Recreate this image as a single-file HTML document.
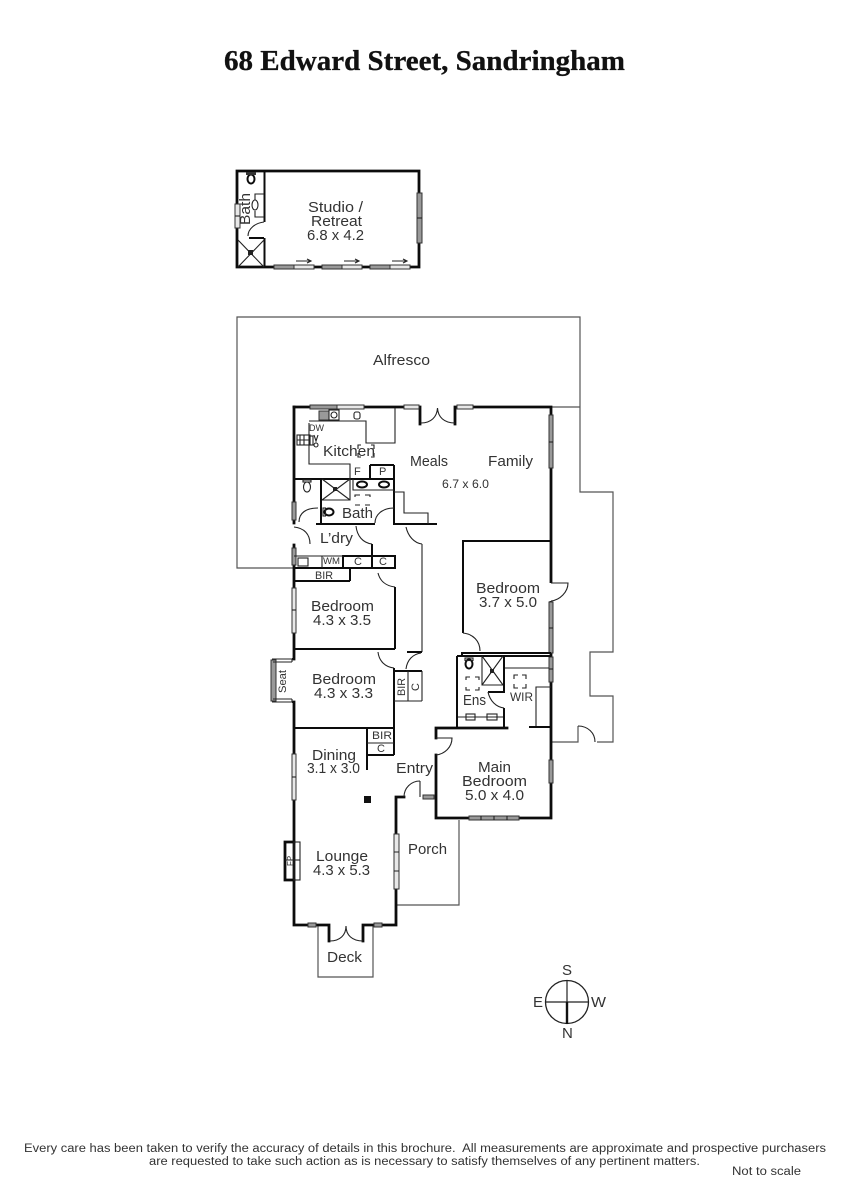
<!DOCTYPE html>
<html><head><meta charset="utf-8"><title>68 Edward Street, Sandringham</title>
<style>
html,body{margin:0;padding:0;background:#fff}
svg{display:block}
text{font-family:"Liberation Sans",sans-serif;fill:#333;font-size:15px}
.w{fill:none;stroke:#0c0c0c;stroke-width:2.8;stroke-linecap:square;stroke-linejoin:miter}
.m{fill:none;stroke:#0c0c0c;stroke-width:2}
.t{fill:none;stroke:#222;stroke-width:1.1}
.o{fill:none;stroke:#555;stroke-width:1.2}
.win{fill:#e8e8e8;stroke:#333;stroke-width:1}
.wd{fill:#999;stroke:#333;stroke-width:1}
.s{font-size:11px}
.xs{font-size:9.5px}
</style></head><body>
<svg width="848" height="1200" viewBox="0 0 848 1200" xmlns="http://www.w3.org/2000/svg">
<rect width="848" height="1200" fill="#fff"/>
<text x="224" y="70" textLength="401" lengthAdjust="spacingAndGlyphs" style="font-family:'Liberation Serif',serif;font-weight:bold;font-size:29px;fill:#111;stroke:#111;stroke-width:.3">68 Edward Street, Sandringham</text>

<!-- STUDIO -->
<path class="w" d="M237 171H419V267H237Z"/>
<path class="m" d="M264.500 171V222M264.500 238V267M249 238H264"/>
<path class="t" d="M264 194H255V200M255 211V217H264M238 240L264 267M264 240L238 267"/>
<ellipse cx="255" cy="205" rx="3" ry="5" class="t" fill="#fff"/>
<path class="t" d="M248 236C248 229 255 223 264 222"/>
<ellipse cx="251" cy="179" rx="3.500" ry="4.500" class="m"/>
<rect x="246" y="172" width="10" height="3" fill="#333"/>
<rect x="248" y="250" width="5" height="5" fill="#222"/>
<rect x="235" y="204" width="5" height="24" class="win"/><path class="t" d="M235 216H240"/>
<rect x="417" y="193" width="5" height="50" class="wd"/><path class="t" d="M417 218H422"/>
<rect x="274" y="265" width="20" height="4" class="wd"/><rect x="294" y="265" width="20" height="4" class="win"/>
<rect x="322" y="265" width="20" height="4" class="wd"/><rect x="342" y="265" width="20" height="4" class="win"/>
<rect x="370" y="265" width="20" height="4" class="wd"/><rect x="390" y="265" width="20" height="4" class="win"/>
<path class="t" d="M296 261H310M307 259L311 261L307 263M344 261H358M355 259L359 261L355 263M392 261H406M403 259L407 261L403 263"/>
<text x="308" y="212" textLength="55" lengthAdjust="spacingAndGlyphs">Studio /</text>
<text x="311" y="226" textLength="51" lengthAdjust="spacingAndGlyphs">Retreat</text>
<text x="307" y="240" textLength="57" lengthAdjust="spacingAndGlyphs">6.8 x 4.2</text>
<text transform="translate(250,225) rotate(-90)" textLength="32" lengthAdjust="spacingAndGlyphs">Bath</text>

<!-- OUTDOOR THIN LINES -->
<path class="o" d="M294 568H237V317H580V492H613V652H590V696H613V742H597M551 407H580M551 742H578V726"/>
<path class="t" d="M578 726C588 726 595 733 595 742"/>
<path class="o" d="M397 905H459V820"/>
<path class="o" d="M318 925V977H373V925"/>

<!-- MAIN OUTER WALLS -->
<path class="w" d="M294 407H420V424M455 424V407H551V818H436V755M436 738V728H507"/>
<path class="w" d="M294 407V523M294 545V659M294 702V925H329V941M363 941V925H396V797H404"/>
<path class="t" d="M421 423C431 423 437 417 437.500 408C438 417 444 423 455 423"/>
<path class="t" d="M330 941C340 941 346 935 346 926C346 935 352 941 363 941"/>
<!-- top windows -->
<rect x="310" y="405" width="27" height="4" class="wd"/><rect x="337" y="405" width="27" height="4" class="win"/>
<rect x="404" y="405" width="15" height="4" class="win"/><rect x="457" y="405" width="16" height="4" class="win"/>
<!-- right windows -->
<rect x="549" y="415" width="4" height="53" class="wd"/><path class="t" d="M549 442H553"/>
<rect x="549" y="583" width="5" height="18" fill="#fff"/>
<path class="t" d="M551 583H568C568 592 560 600 551 601"/>
<rect x="549" y="602" width="4" height="51" class="wd"/><path class="t" d="M549 628H553"/>
<rect x="549" y="657" width="4" height="25" class="wd"/><path class="t" d="M549 669H553"/>
<rect x="549" y="760" width="4" height="23" class="wd"/>
<rect x="469" y="816" width="50" height="4" class="wd"/><path class="t" d="M481 816V820M494 816V820M507 816V820"/>
<!-- left windows -->
<rect x="292" y="502" width="4" height="18" class="wd"/>
<rect x="292" y="548" width="4" height="17" class="wd"/>
<rect x="292" y="588" width="4" height="45" class="win"/><path class="t" d="M292 610H296"/>
<rect x="292" y="754" width="4" height="46" class="win"/><path class="t" d="M292 777H296"/>
<rect x="394" y="834" width="5" height="55" class="win"/><path class="t" d="M394 852H399M394 871H399"/>
<rect x="308" y="923" width="8" height="4" class="wd"/><rect x="374" y="923" width="8" height="4" class="wd"/>
<!-- FP -->
<path class="w" d="M294 842H285V880H294"/>
<rect x="294" y="842" width="6" height="38" class="t"/>
<path class="t" d="M285 860H300"/>
<text class="xs" transform="translate(293,866) rotate(-90)" style="font-size:8px">FP</text>
<!-- Bay seat -->
<path class="m" d="M292 659H294M292 702H294"/>
<rect x="271" y="660" width="5" height="41" class="wd"/>
<path class="t" d="M272 659H292V662M273 662H292M272 702H292V699M273 699H292"/>
<text class="s" transform="translate(286,693) rotate(-90)" textLength="23" lengthAdjust="spacingAndGlyphs">Seat</text>

<!-- Rear wet zone walls -->
<path class="m" d="M294 479H394M321 479V524M316 524H375M393 524H437M394 465V524M370 465H394M370 465V479"/>
<path class="t" d="M309 423V464H350V479M309 421H366V443H395V408"/>
<path class="t" d="M394 492H404V513H428V524"/>
<path class="t" d="M322 500H350V479M322 479L350 500M350 479L322 500M353 479V490H394"/>
<rect x="333" y="487" width="4" height="4" fill="#222"/>
<ellipse cx="362" cy="484.500" rx="5" ry="3" class="m"/><ellipse cx="384" cy="484.500" rx="5" ry="3" class="m"/>
<path class="t" d="M355 497V495H360M365 495H370V497M355 505H360M365 505H370"/>
<ellipse cx="307" cy="487" rx="3.500" ry="5" class="t" stroke-width="1.500"/>
<rect x="303" y="480" width="8" height="2" class="t"/>
<ellipse cx="329" cy="512" rx="4.500" ry="3.500" class="m"/><rect x="323" y="508" width="2.500" height="8" class="t"/>
<path class="t" d="M299 522C299 513 306 508 318 508M375 523C375 515 382 508 394 508"/>
<path class="t" d="M294 527C304 528 310 534 310 544"/>
<path class="t" d="M356 526C357 536 363 543 372 544"/>
<path class="t" d="M406 527C408 536 414 543 422 544M422 544V652"/>
<!-- sink, stove -->
<rect x="319" y="411" width="10" height="9" class="wd"/>
<rect x="329" y="410" width="10" height="10" class="t"/><circle cx="334" cy="415" r="3" class="t"/>
<rect x="354" y="412" width="6" height="7" rx="2" class="t"/>
<rect x="297" y="435" width="13" height="10" class="t"/><path class="t" d="M300 435V445M304 435V445M297 440H310"/>
<rect x="310" y="436" width="3" height="9" class="t"/>
<circle cx="316" cy="445" r="2" class="t"/><path class="t" d="M314 435L316 441L318 435"/>
<text class="xs" x="309" y="431" textLength="15" lengthAdjust="spacingAndGlyphs">DW</text>
<path class="t" d="M361 445H358V449M371 445H374V449M358 453V457H361M374 453V457H371"/>
<text x="323" y="456" textLength="52" lengthAdjust="spacingAndGlyphs">Kitchen</text>
<text class="s" x="354" y="475">F</text><text class="s" x="379" y="475">P</text>
<text x="342" y="518" textLength="31" lengthAdjust="spacingAndGlyphs">Bath</text>
<text x="320" y="543" textLength="33" lengthAdjust="spacingAndGlyphs">L’dry</text>

<!-- Laundry cupboards -->
<path class="m" d="M294 568H395V556H343V568M372 544V568M350 568V581"/>
<path class="t" d="M294 556H343M322 556V568"/>
<path class="m" d="M294 581H350"/>
<rect x="298" y="558" width="10" height="8" class="t"/>
<text x="323" y="564" textLength="17" lengthAdjust="spacingAndGlyphs" class="xs">WM</text>
<text x="354" y="565" class="s">C</text><text x="379" y="565" class="s">C</text>
<text x="315" y="579" class="s" textLength="18" lengthAdjust="spacingAndGlyphs">BIR</text>
<path class="t" d="M378 573C380 581 386 586 395 587"/>
<path class="m" d="M395 587V649M294 649H395"/>

<!-- Bedroom 4.3x3.3 -->
<path class="t" d="M378 652C379 661 385 667 394 668"/>
<path class="m" d="M394 668V755M394 671H422M294 728H394M367 728V770M367 755H394"/>
<path class="t" d="M367 743H394M408 671V701M422 671V701M394 701H422M406 669C407 660 413 654 421 653"/>
<path class="m" d="M407 652H422"/>
<text class="s" transform="translate(405,696) rotate(-90)" textLength="18" lengthAdjust="spacingAndGlyphs">BIR</text>
<text class="s" transform="translate(419,691) rotate(-90)">C</text>
<text class="s" x="372" y="739" textLength="20" lengthAdjust="spacingAndGlyphs">BIR</text>
<text class="s" x="377" y="752">C</text>

<!-- Column -->
<rect x="364" y="796" width="7" height="7" fill="#111"/>

<!-- Entry -->
<path class="t" d="M404 797C404 788 411 781 420 781"/>
<path class="t" d="M420 781V797" stroke-width="1.500"/>
<rect x="423" y="795" width="11" height="4" class="wd"/>
<path class="t" d="M436 738H452C452 747 445 754 436 755"/>

<!-- Bedroom 3.7x5 -->
<path class="m" d="M551 541H463V633" stroke-width="2.400"/>
<path class="t" d="M463 633C473 634 480 641 480 651"/>
<path class="m" d="M463 653H551"/>
<path class="m" d="M457 656H551M457 656V727M462 652V656"/>
<!-- Ensuite -->
<path class="t" d="M482 656V685H503M482 656L503 685M503 656L482 685"/>
<rect x="490" y="669" width="4" height="4" fill="#222"/>
<path class="m" d="M504 656V692H488"/>
<path class="t" d="M488 692C490 701 496 707 504 708"/>
<path class="m" d="M504 708V727"/>
<ellipse cx="469" cy="664" rx="3.500" ry="4.500" class="m"/><rect x="465" y="658" width="8" height="2.500" class="t"/>
<path class="t" d="M466 680V677H470M475 677H479V680M466 687V690H470M475 690H479V687"/>
<path class="t" d="M458 717H503"/>
<rect x="466" y="714" width="9" height="6" class="t" fill="#fff"/><rect x="487" y="714" width="10" height="6" class="t" fill="#fff"/>
<text x="463" y="705" textLength="23" lengthAdjust="spacingAndGlyphs">Ens</text>
<!-- WIR -->
<path class="t" d="M505 668H549M536 727V687H551"/>
<path class="m" d="M529 727H551"/>
<path class="t" d="M514 679V675H518M522 675H526V679M514 684V688H518M522 688H526V684"/>
<text x="510" y="701" textLength="23" lengthAdjust="spacingAndGlyphs" style="font-size:12px">WIR</text>

<!-- Labels -->
<text x="373" y="365" textLength="57" lengthAdjust="spacingAndGlyphs">Alfresco</text>
<text x="410" y="466" textLength="38" lengthAdjust="spacingAndGlyphs">Meals</text>
<text x="488" y="466" textLength="45" lengthAdjust="spacingAndGlyphs">Family</text>
<text x="442" y="488" textLength="47" lengthAdjust="spacingAndGlyphs" style="font-size:12px">6.7 x 6.0</text>
<text x="476" y="593" textLength="64" lengthAdjust="spacingAndGlyphs">Bedroom</text>
<text x="479" y="607" textLength="58" lengthAdjust="spacingAndGlyphs">3.7 x 5.0</text>
<text x="311" y="611" textLength="63" lengthAdjust="spacingAndGlyphs">Bedroom</text>
<text x="313" y="625" textLength="58" lengthAdjust="spacingAndGlyphs">4.3 x 3.5</text>
<text x="312" y="684" textLength="64" lengthAdjust="spacingAndGlyphs">Bedroom</text>
<text x="314" y="698" textLength="59" lengthAdjust="spacingAndGlyphs">4.3 x 3.3</text>
<text x="312" y="760" textLength="44" lengthAdjust="spacingAndGlyphs">Dining</text>
<text x="307" y="773" textLength="53" lengthAdjust="spacingAndGlyphs">3.1 x 3.0</text>
<text x="396" y="773" textLength="37" lengthAdjust="spacingAndGlyphs">Entry</text>
<text x="478" y="772" textLength="33" lengthAdjust="spacingAndGlyphs">Main</text>
<text x="462" y="786" textLength="65" lengthAdjust="spacingAndGlyphs">Bedroom</text>
<text x="465" y="800" textLength="59" lengthAdjust="spacingAndGlyphs">5.0 x 4.0</text>
<text x="316" y="861" textLength="52" lengthAdjust="spacingAndGlyphs">Lounge</text>
<text x="313" y="875" textLength="57" lengthAdjust="spacingAndGlyphs">4.3 x 5.3</text>
<text x="408" y="854" textLength="39" lengthAdjust="spacingAndGlyphs">Porch</text>
<text x="327" y="962" textLength="35" lengthAdjust="spacingAndGlyphs">Deck</text>

<!-- Compass -->
<circle cx="567" cy="1002" r="21.500" fill="none" stroke="#222" stroke-width="1.300"/>
<path d="M546 1002H589M567 981V1002" stroke="#222" stroke-width="1.200" fill="none"/>
<path d="M567 1002V1024" stroke="#111" stroke-width="2.400"/>
<text x="562" y="975" style="font-size:15px">S</text>
<text x="533" y="1007" style="font-size:15px">E</text>
<text x="591" y="1007" textLength="15" lengthAdjust="spacingAndGlyphs" style="font-size:15px">W</text>
<text x="562" y="1038" style="font-size:15px">N</text>

<!-- Footer -->
<text x="24" y="1152" textLength="802" lengthAdjust="spacingAndGlyphs" style="font-size:11.500px">Every care has been taken to verify the accuracy of details in this brochure.&#160; All measurements are approximate and prospective purchasers</text>
<text x="149" y="1165" textLength="551" lengthAdjust="spacingAndGlyphs" style="font-size:11.500px">are requested to take such action as is necessary to satisfy themselves of any pertinent matters.</text>
<text x="732" y="1175" textLength="69" lengthAdjust="spacingAndGlyphs" style="font-size:11.500px">Not to scale</text>
</svg>
</body></html>
